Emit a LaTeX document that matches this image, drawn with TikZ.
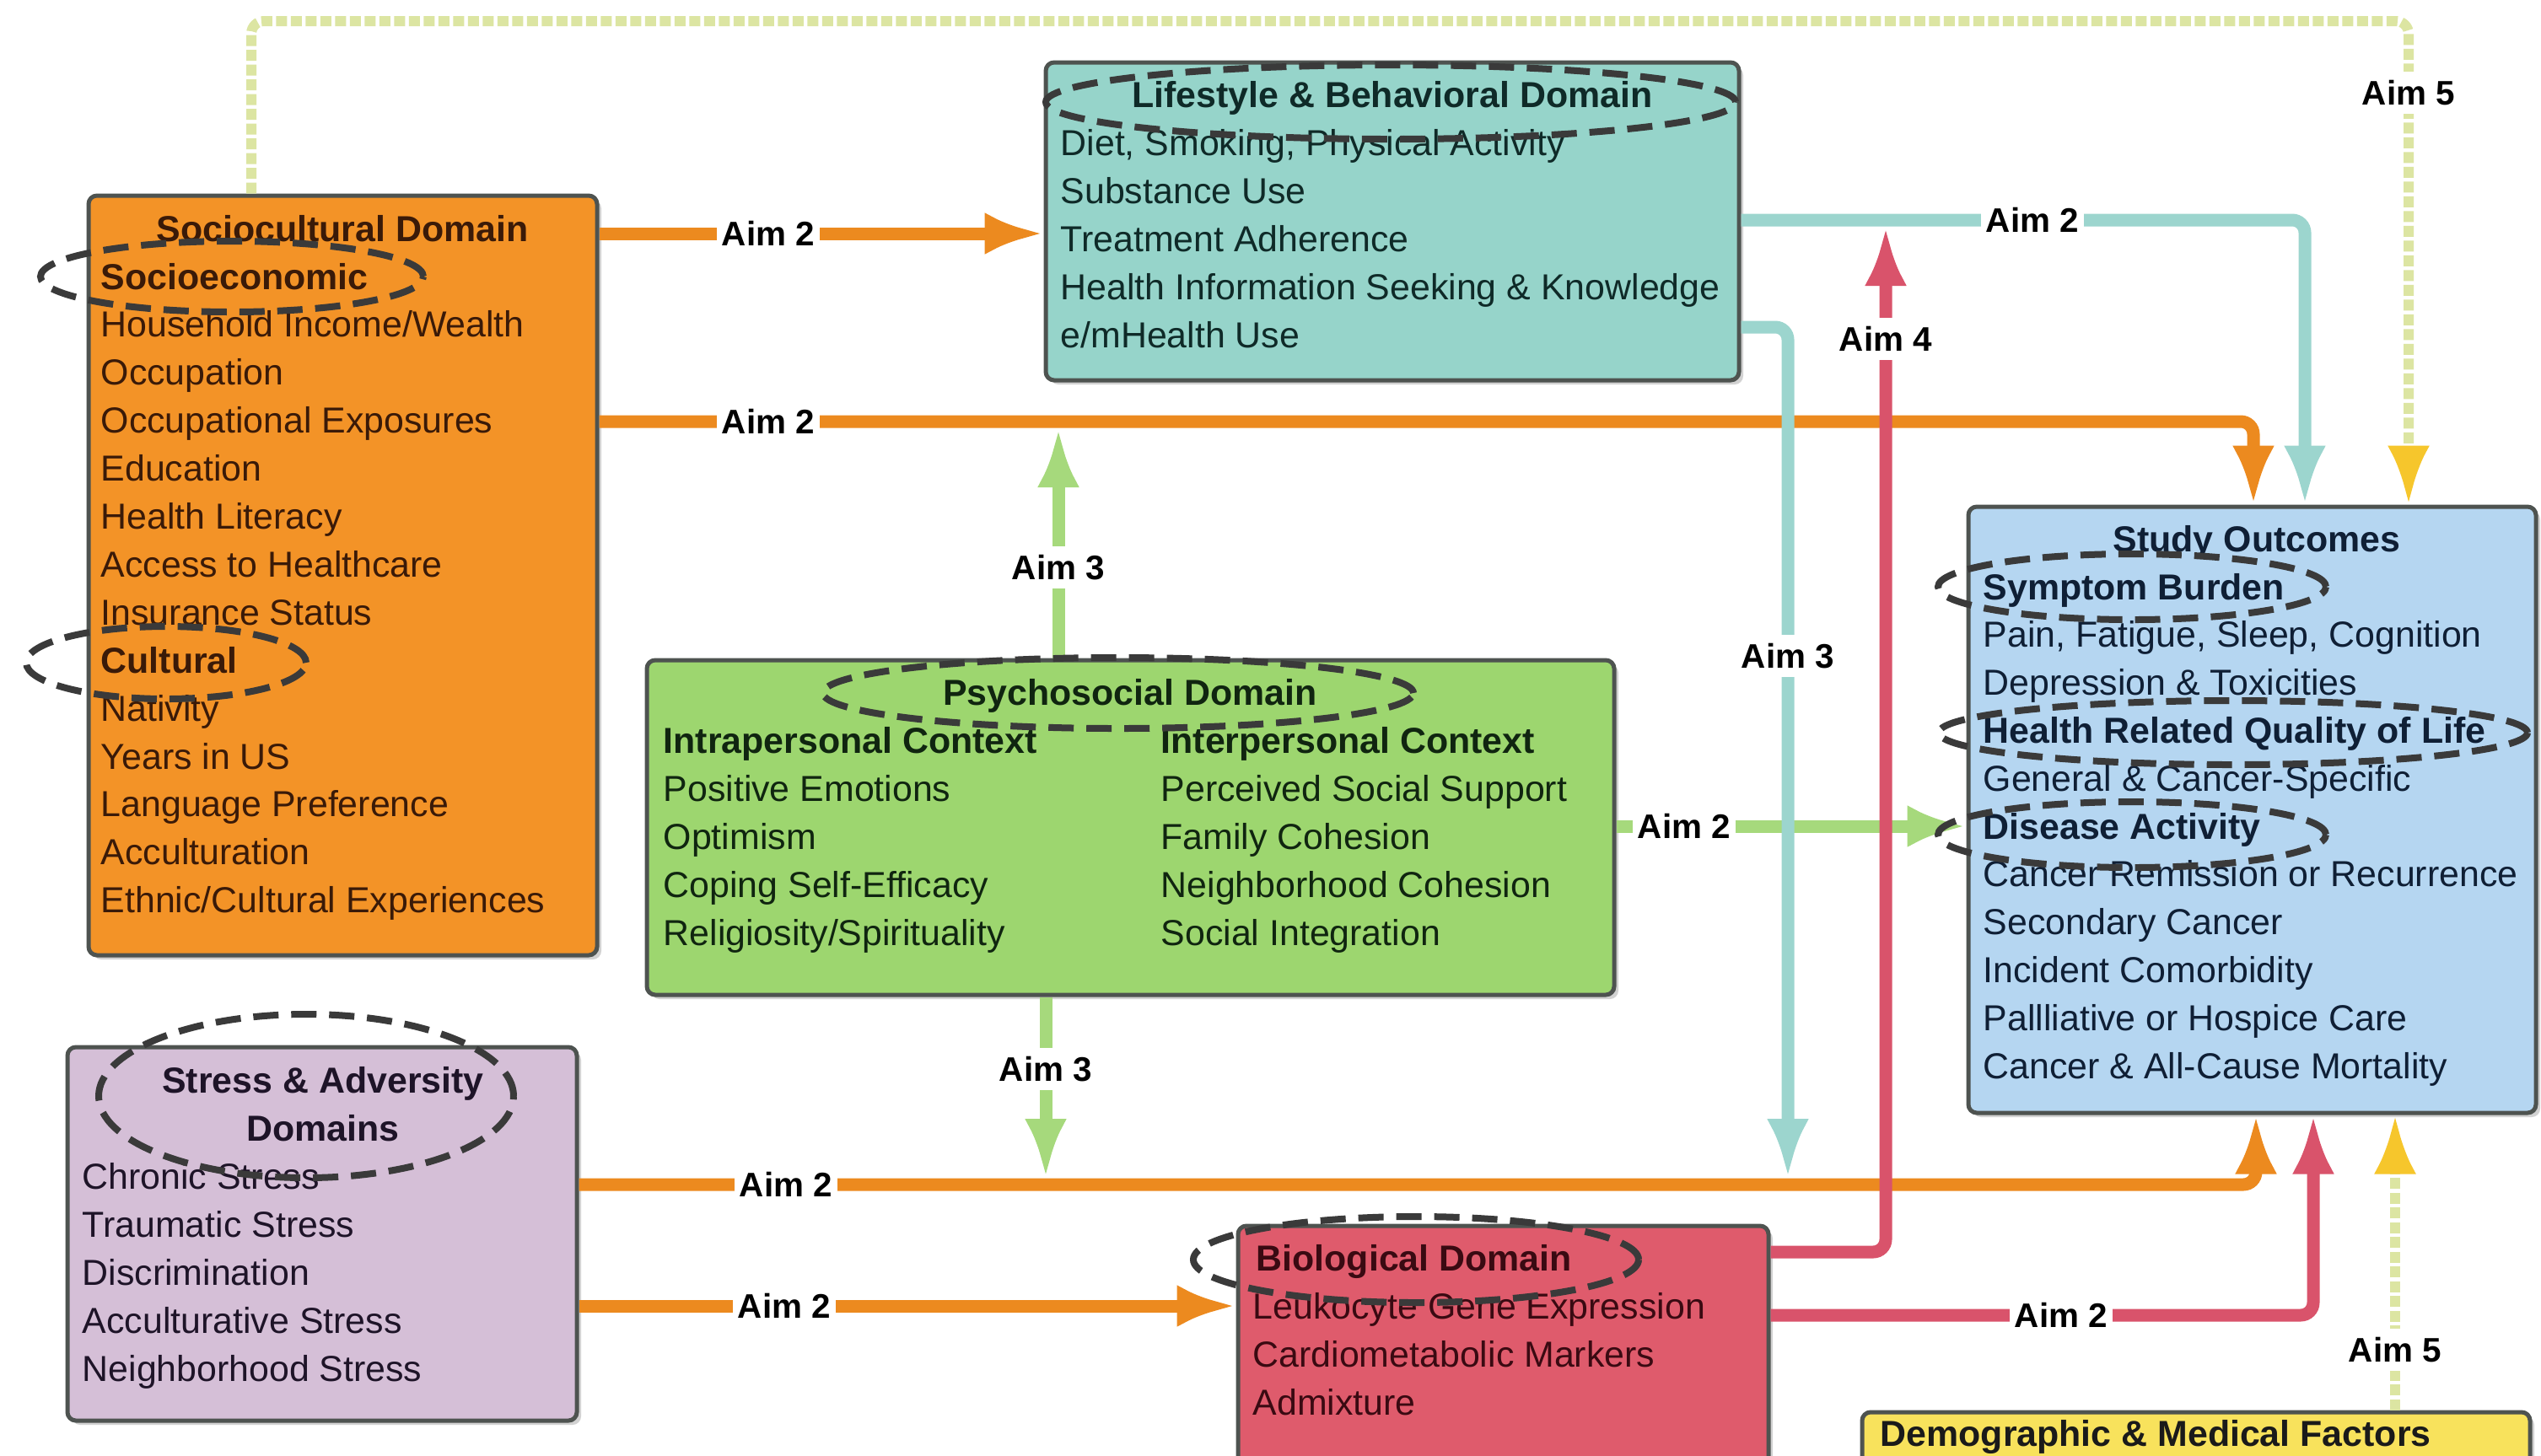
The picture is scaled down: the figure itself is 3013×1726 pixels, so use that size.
\documentclass[tikz,border=0pt]{standalone}
\usepackage{fontspec}
\setmainfont{Liberation Sans}
\usetikzlibrary{arrows.meta,shapes.geometric,shadows}

% box fills
\definecolor{socfill}{HTML}{F39327}
\definecolor{lifefill}{HTML}{96D4CA}
\definecolor{psyfill}{HTML}{9DD66F}
\definecolor{strfill}{HTML}{D5BFD7}
\definecolor{biofill}{HTML}{DF5B6C}
\definecolor{outfill}{HTML}{B5D6F1}
\definecolor{demfill}{HTML}{F8E25C}
% text tints
\definecolor{soctext}{HTML}{3A1A08}
\definecolor{lifetext}{HTML}{0F2A28}
\definecolor{psytext}{HTML}{102510}
\definecolor{strtext}{HTML}{1E1428}
\definecolor{biotext}{HTML}{3A0A12}
\definecolor{outtext}{HTML}{0F1F35}
\definecolor{demtext}{HTML}{1A1A1A}
% frames, rings and connectors
\definecolor{framecol}{HTML}{4E5350}
\definecolor{ringcol}{HTML}{3A3A3A}
\definecolor{orangeln}{HTML}{EC8A1F}
\definecolor{tealln}{HTML}{9CD5CE}
\definecolor{redln}{HTML}{D9536B}
\definecolor{greenln}{HTML}{A6D97C}
\definecolor{aimfive}{HTML}{DCE5A2}
\definecolor{aimfivetip}{HTML}{F6C62C}

\newcommand\dgmfont{\fontsize{12.2}{14}\selectfont}
\newcommand\aimfont{\fontsize{11.5}{13}\selectfont\bfseries}

\begin{document}
\begin{tikzpicture}[x=0.1mm, y=-0.1mm,
  dombox/.style={draw=framecol, line width=0.5mm, rounded corners=1mm, inner sep=0pt,
    drop shadow={shadow xshift=0.5mm, shadow yshift=-0.5mm, opacity=0.35}},
  txtitem/.style={anchor=base west, inner sep=0pt, font=\dgmfont, text=#1},
  txthead/.style={anchor=base west, inner sep=0pt, font=\dgmfont\bfseries, text=#1},
  txttitle/.style={anchor=base, inner sep=0pt, font=\dgmfont\bfseries, text=#1},
  ringmark/.style={ellipse, draw=ringcol, line width=0.8mm, dash pattern=on 3mm off 1.5mm,
    inner sep=0pt},
  flowline/.style={line width=1.5mm, rounded corners=1.5mm, -{Latex[length=7mm, width=5mm]}},
  fivepath/.style={line width=1.2mm, draw=aimfive, dash pattern=on 1.3mm off 0.45mm,
    rounded corners=1.5mm, -{Latex[length=7mm, width=5mm, color=aimfivetip]}},
  aimlabel/.style={fill=white, inner xsep=0.6mm, inner ysep=1mm, font=\aimfont, text=black}]

\useasboundingbox (0,0) rectangle (3013,1726);
\fill[white] (0,0) rectangle (3013,1726);
\clip (0,0) rectangle (3013,1726);

% domain boxes
\node[dombox, fill=socfill,  minimum width=60.3mm, minimum height=90.1mm] (soc)  at (406.5,682.5) {};
\node[dombox, fill=lifefill, minimum width=82.2mm, minimum height=37.7mm] (life) at (1651,262.5) {};
\node[dombox, fill=psyfill,  minimum width=114.7mm, minimum height=39.7mm] (psy) at (1340.5,981.5) {};
\node[dombox, fill=strfill,  minimum width=60.4mm, minimum height=44.3mm] (str)  at (382,1463.5) {};
\node[dombox, fill=biofill,  minimum width=62.9mm, minimum height=34.6mm] (bio)  at (1782.5,1627) {};
\node[dombox, fill=outfill,  minimum width=67.3mm, minimum height=71.9mm] (out)  at (2670.5,960.5) {};
\node[dombox, fill=demfill,  minimum width=79.2mm, minimum height=12.5mm] (dem)  at (2604,1737.5) {};

% Aim 5 (dotted, pale)
\draw[fivepath] (soc.north -| 298,0) -- (298,25) -- (2856,25) -- (out.north -| 2856,0);
\draw[fivepath] (dem.north -| 2840,0) -- (out.south -| 2840,0);

% Aim 2 (orange)
\draw[flowline, draw=orangeln] (soc.east |- 0,277) -- (life.west |- 0,277);
\draw[flowline, draw=orangeln] (soc.east |- 0,500) -- (2672,500) -- (out.north -| 2672,0);
\draw[flowline, draw=orangeln] (str.east |- 0,1405) -- (2675,1405) -- (out.south -| 2675,0);
\draw[flowline, draw=orangeln] (str.east |- 0,1549) -- (bio.west |- 0,1549);

% Aim 3 and Aim 2 (green)
\coordinate (greenup) at (1255,508);
\coordinate (greendown) at (1240,1397);
\draw[flowline, draw=greenln] (psy.north -| greenup) -- (greenup);
\draw[flowline, draw=greenln] (psy.south -| greendown) -- (greendown);
\draw[flowline, draw=greenln] (psy.east |- 0,980) -- (out.west |- 0,980);

% Aim 2 and Aim 3 (teal)
\coordinate (tealdown) at (2120,1397);
\draw[flowline, draw=tealln] (life.east |- 0,261) -- (2733,261) -- (out.north -| 2733,0);
\draw[flowline, draw=tealln] (life.east |- 0,388) -- (2120,388) -- (tealdown);

% Aim 4 and Aim 2 (red)
\coordinate (redup) at (2236,269);
\draw[flowline, draw=redln] (bio.east |- 0,1485) -- (2236,1485) -- (redup);
\draw[flowline, draw=redln] (bio.east |- 0,1560) -- (2743,1560) -- (out.south -| 2743,0);

% Sociocultural domain
\node[txttitle=soctext] (soc-title) at (406,286) {Sociocultural Domain};
\foreach \t [count=\i from 0] in {\textbf{Socioeconomic}, Household Income/Wealth, Occupation,
    Occupational Exposures, Education, Health Literacy, Access to Healthcare, Insurance Status,
    \textbf{Cultural}, Nativity, Years in US, Language Preference, Acculturation,
    Ethnic/Cultural Experiences}
  \node[txtitem=soctext] (soc-\i) at (119,343+56.9*\i) {\t};

% Lifestyle & behavioral domain
\node[txttitle=lifetext] (life-title) at (1651,127) {Lifestyle \& Behavioral Domain};
\foreach \t [count=\i from 0] in {{Diet, Smoking, Physical Activity}, Substance Use,
    Treatment Adherence, Health Information Seeking \& Knowledge, e/mHealth Use}
  \node[txtitem=lifetext] (life-\i) at (1257,184+57*\i) {\t};

% Psychosocial domain
\node[txttitle=psytext] (psy-title) at (1340,836) {Psychosocial Domain};
\node[txthead=psytext] (psy-intra) at (786,893) {Intrapersonal Context};
\node[txthead=psytext] (psy-inter) at (1376,893) {Interpersonal Context};
\foreach \t [count=\i from 0] in {Positive Emotions, Optimism, Coping Self-Efficacy,
    Religiosity/Spirituality}
  \node[txtitem=psytext] (psy-a\i) at (786,950+57*\i) {\t};
\foreach \t [count=\i from 0] in {Perceived Social Support, Family Cohesion,
    Neighborhood Cohesion, Social Integration}
  \node[txtitem=psytext] (psy-b\i) at (1376,950+57*\i) {\t};

% Stress & adversity domains
\node[txttitle=strtext] (str-title1) at (383,1296) {Stress \& Adversity};
\node[txttitle=strtext] (str-title2) at (383,1353) {Domains};
\foreach \t [count=\i from 0] in {Chronic Stress, Traumatic Stress, Discrimination,
    Acculturative Stress, Neighborhood Stress}
  \node[txtitem=strtext] (str-\i) at (97,1410+57*\i) {\t};

% Biological domain
\node[txthead=biotext] (bio-title) at (1489,1507) {Biological Domain};
\foreach \t [count=\i from 0] in {Leukocyte Gene Expression, Cardiometabolic Markers, Admixture}
  \node[txtitem=biotext] (bio-\i) at (1485,1564+57*\i) {\t};

% Study outcomes
\node[txttitle=outtext] (out-title) at (2676,654) {Study Outcomes};
\foreach \t [count=\i from 0] in {\textbf{Symptom Burden}, {Pain, Fatigue, Sleep, Cognition},
    Depression \& Toxicities, \textbf{Health Related Quality of Life},
    General \& Cancer-Specific, \textbf{Disease Activity}, Cancer Remission or Recurrence,
    Secondary Cancer, Incident Comorbidity, Pallliative or Hospice Care,
    Cancer \& All-Cause Mortality}
  \node[txtitem=outtext] (out-\i) at (2351,711+56.8*\i) {\t};

% Demographic & medical factors
\node[txthead=demtext] (dem-title) at (2229,1715) {Demographic \& Medical Factors};

% dashed highlight rings
\node[ringmark, minimum width=45.4mm, minimum height=8.4mm] (ring-socio) at (275,328) {};
\node[ringmark, minimum width=33.2mm, minimum height=8.6mm] (ring-cult) at (197,786) {};
\node[ringmark, minimum width=81.8mm, minimum height=8.8mm] (ring-life) at (1649,121) {};
\node[ringmark, minimum width=70.0mm, minimum height=8.4mm] (ring-psy) at (1326,822) {};
\node[ringmark, minimum width=49.2mm, minimum height=19.4mm] (ring-str) at (363,1300) {};
\node[ringmark, minimum width=52.8mm, minimum height=10.2mm] (ring-bio) at (1679,1494) {};
\node[ringmark, minimum width=46.0mm, minimum height=7.8mm] (ring-symp) at (2528,696) {};
\node[ringmark, minimum width=69.8mm, minimum height=7.6mm] (ring-qol) at (2648,869) {};
\node[ringmark, minimum width=46.0mm, minimum height=7.8mm] (ring-dis) at (2528,990) {};

% connector labels
\node[aimlabel] (lab-a) at (911,277) {Aim 2};
\node[aimlabel] (lab-b) at (911,500) {Aim 2};
\node[aimlabel] (lab-c) at (932,1405) {Aim 2};
\node[aimlabel] (lab-d) at (930,1549) {Aim 2};
\node[aimlabel] (lab-e) at (2410,261) {Aim 2};
\node[aimlabel] (lab-f) at (2120,778) {Aim 3};
\node[aimlabel] (lab-g) at (2236,402) {Aim 4};
\node[aimlabel] (lab-h) at (2444,1560) {Aim 2};
\node[aimlabel] (lab-i) at (1997,980) {Aim 2};
\node[aimlabel] (lab-j) at (1255,673) {Aim 3};
\node[aimlabel] (lab-k) at (1240,1268) {Aim 3};
\node[aimlabel] (lab-5a) at (2856,110) {Aim 5};
\node[aimlabel] (lab-5b) at (2840,1601) {Aim 5};
\end{tikzpicture}
\end{document}
